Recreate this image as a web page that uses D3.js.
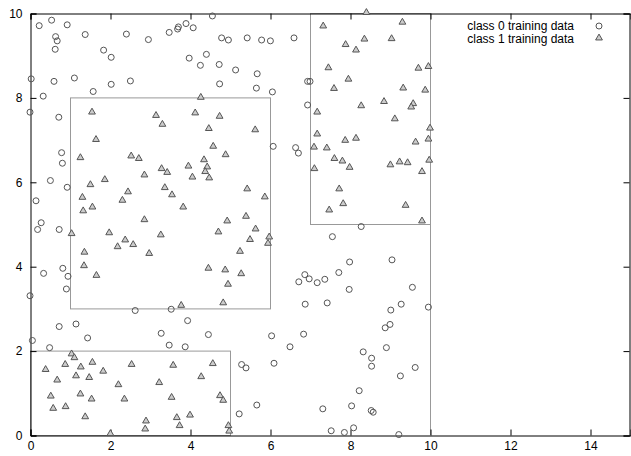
<!DOCTYPE html>
<html>
<head>
<meta charset="utf-8">
<script src="https://cdn.jsdelivr.net/npm/d3@7"></script>
<style>
  body { margin: 0; background: #fff; }
  svg { display: block; font-family: "Liberation Sans", Arial, sans-serif; }
</style>
</head>
<body>
<svg id="chart" width="631" height="456"></svg>
<script>
// class 0 points [x, y]
const class0 = [
  [0.23,9.70],[0.54,9.83],[0.93,9.72],[0.64,9.44],[0.68,9.34],[0.63,9.14],[1.38,9.49],[2.41,9.50],[2.96,9.37],[1.84,9.12],
  [2.03,8.95],[0.03,8.44],[0.60,8.38],[1.11,8.46],[2.03,8.31],[2.51,8.39],[1.58,8.14],[0.33,8.03],[0.0,7.65],[0.72,7.53],
  [4.56,9.93],[3.48,9.54],[3.69,9.62],[3.71,9.67],[3.90,9.75],[4.08,9.65],[4.79,9.41],[4.96,9.36],[5.43,9.41],[5.79,9.36],
  [6.01,9.34],[6.60,9.41],[3.98,8.93],[4.41,9.02],[4.26,8.76],[4.73,8.78],[5.14,8.65],[5.68,8.56],[4.74,8.32],[5.66,8.22],
  [6.06,8.13],[6.08,6.84],[6.64,6.81],[6.71,6.68],[6.94,8.38],[7.0,8.38],[6.94,7.82],
  [0.79,6.69],[0.81,6.44],[0.51,6.03],[0.93,5.87],[0.15,5.55],[0.28,5.03],[0.19,4.87],[0.73,4.87],[0.82,3.95],
  [0.34,3.83],[0.95,3.76],[0.91,3.46],[0.0,3.30],
  [8.28,4.94],[7.56,4.70],[7.99,4.10],[9.05,4.15],[7.72,3.85],[6.87,3.80],[6.72,3.63],[6.98,3.70],[7.18,3.61],[7.37,3.69],
  [7.98,3.45],[9.56,3.50],
  [2.63,2.95],[0.73,2.57],[1.15,2.63],[1.44,2.30],[0.06,2.24],[0.49,2.07],[3.28,2.41],
  [3.53,2.98],[3.94,2.71],[4.46,2.38],[3.48,2.13],[3.88,2.09],[6.04,2.35],[6.50,2.09],[5.29,1.67],[5.40,1.59],[6.10,1.70],
  [5.67,0.71],[5.23,0.50],
  [6.88,3.10],[7.43,3.13],[9.28,3.10],[9.96,3.03],[9.02,2.96],[9.0,2.62],[8.88,2.54],[6.84,2.39],[8.33,1.97],[8.91,2.07],
  [8.54,1.82],[8.54,1.63],[9.63,1.60],[9.26,1.40],[8.23,1.05],[7.32,0.62],[8.04,0.69],[8.53,0.58],[8.58,0.54],[7.53,0.10],
  [7.86,0.06],[8.09,0.17],[9.22,0.01]
];

// class 1 points [x, y]
const class1 = [
  [1.55,7.64],[3.15,7.56],[3.31,7.35],[1.65,6.99],
  [4.27,7.99],[4.13,7.62],[4.74,7.54],[4.47,7.25],[5.63,7.22],[4.58,6.83],
  [8.41,10.0],[7.33,9.68],[9.31,9.77],[7.89,9.24],[8.36,9.37],[9.04,9.38],[8.15,9.11],[7.46,8.69],[9.71,8.68],[9.96,8.72],
  [7.96,8.42],[7.60,8.20],[9.33,8.21],[9.88,8.16],[8.28,7.79],[8.85,7.89],[9.58,7.84],[9.53,7.76],[7.18,7.64],[9.12,7.48],
  [10.0,7.26],[7.18,7.12],[7.88,6.97],[8.15,7.02],[9.64,6.93],[9.96,7.00],[7.10,6.81],[7.42,6.79],
  [1.26,6.56],[2.53,6.60],[2.72,6.54],[3.29,6.30],[2.86,6.15],[1.87,6.04],[1.51,5.92],[3.37,5.85],[2.45,5.75],[1.31,5.62],
  [2.31,5.55],[1.56,5.39],[1.33,5.30],[2.86,5.09],[1.04,4.76],[1.98,4.78],[3.27,4.73],[2.38,4.61],[2.19,4.45],[2.58,4.50],
  [1.36,4.32],[2.98,4.29],[1.35,4.00],[1.66,3.77],
  [4.89,6.63],[4.35,6.51],[3.96,6.36],[4.43,6.34],[3.43,6.21],[4.38,6.23],[4.06,6.10],[4.48,6.08],[3.55,5.68],[5.43,5.82],
  [5.87,5.63],[3.83,5.39],[4.93,5.06],[5.40,5.17],[4.71,4.80],[5.64,4.87],[5.50,4.62],[5.98,4.68],[5.95,4.53],[5.25,4.34],
  [4.46,3.94],[4.88,3.90],[5.28,3.81],[4.95,3.56],
  [7.61,6.54],[7.81,6.48],[7.99,6.33],[7.11,6.30],[9.01,6.39],[9.24,6.46],[9.44,6.44],[9.98,6.50],[9.80,6.23],[7.73,5.82],
  [7.83,5.47],[7.48,5.32],[9.39,5.43],[9.80,5.06],
  [1.04,1.91],[1.11,1.82],[0.39,1.54],[0.88,1.66],[1.27,1.60],[1.56,1.71],[1.83,1.50],[2.54,1.66],[0.68,1.29],[1.15,1.39],
  [1.48,1.35],[2.21,1.18],[3.23,1.23],[0.52,0.91],[1.26,0.96],[1.54,0.84],[2.36,0.84],[0.58,0.62],[0.89,0.66],[1.38,0.42],
  [2.90,0.32],[2.88,0.13],[2.01,0.02],
  [3.78,3.06],[4.83,3.12],[3.58,1.64],[4.57,1.68],[4.28,1.37],[3.54,0.88],[4.75,0.92],[4.83,0.81],[3.67,0.40],[4.0,0.46],
  [3.74,0.21],[4.96,0.21],[4.98,0.08]
];

// region boxes [x0, x1, y0, y1]
const boxes = [
  [1, 6, 3, 8],
  [7, 10, 5, 10],
  [0, 5, 0, 2]
];
const divider = [10, 0, 10]; // vertical line x=10 from y0 to y1

const xTicks = [0, 2, 4, 6, 8, 10, 12, 14];
const yTicks = [0, 2, 4, 6, 8, 10];
const legendLabels = ["class 0 training data", "class 1 training data"];

const svg = d3.select("#chart");
const margin = { top: 13, right: 1, bottom: 21, left: 30 };
const width = 631, height = 456;

const x = d3.scaleLinear().domain([0, 15]).range([margin.left, width - margin.right]);
const y = d3.scaleLinear().domain([0, 10]).range([height - margin.bottom, margin.top]);

const markColor = "#555";
const boxColor = "#999";

// boxes
svg.append("g")
  .selectAll("rect")
  .data(boxes)
  .join("rect")
  .attr("x", d => x(d[0]) + 0.5)
  .attr("y", d => y(d[3]) + 0.5)
  .attr("width", d => x(d[1]) - x(d[0]))
  .attr("height", d => y(d[2]) - y(d[3]))
  .attr("fill", "none")
  .attr("stroke", boxColor)
  .attr("stroke-width", 1);

svg.append("line")
  .attr("x1", x(divider[0]) + 0.5).attr("x2", x(divider[0]) + 0.5)
  .attr("y1", y(divider[1])).attr("y2", y(divider[2]))
  .attr("stroke", boxColor);

// axes (gnuplot style: inward ticks, mirrored)
const tickLen = 6;
const axisB = svg.append("g").attr("transform", `translate(0.5,${y(0) + 0.5})`)
  .call(d3.axisBottom(x).tickValues(xTicks).tickSize(-tickLen).tickPadding(6).tickFormat(d3.format("d")));
const axisT = svg.append("g").attr("transform", `translate(0.5,${y(10) + 0.5})`)
  .call(d3.axisTop(x).tickValues(xTicks).tickSize(-tickLen).tickFormat(""));
const axisL = svg.append("g").attr("transform", `translate(${x(0) + 0.5},0.5)`)
  .call(d3.axisLeft(y).tickValues(yTicks).tickSize(-tickLen).tickPadding(8).tickFormat(d3.format("d")));
const axisR = svg.append("g").attr("transform", `translate(${x(15) - 0.5},0.5)`)
  .call(d3.axisRight(y).tickValues(yTicks).tickSize(-tickLen).tickFormat(""));

[axisB, axisT, axisL, axisR].forEach(g => {
  g.select(".domain").attr("stroke", "#000");
  g.selectAll(".tick line").attr("stroke", "#000");
  g.selectAll("text").attr("font-size", 12).attr("fill", "#000")
    .attr("font-family", "'Liberation Sans', Arial, sans-serif");
});

// markers
const tri = d3.symbol().type(d3.symbolTriangle).size(20);

svg.append("g")
  .selectAll("circle")
  .data(class0)
  .join("circle")
  .attr("cx", d => x(d[0]))
  .attr("cy", d => y(d[1]))
  .attr("r", 3)
  .attr("fill", "none")
  .attr("stroke", markColor)
  .attr("stroke-width", 1);

svg.append("g")
  .selectAll("path")
  .data(class1)
  .join("path")
  .attr("transform", d => `translate(${x(d[0])},${y(d[1]) - 0.5})`)
  .attr("d", tri)
  .attr("fill", "#ccc")
  .attr("stroke", markColor)
  .attr("stroke-width", 1);

// legend
const legend = svg.append("g").attr("font-size", 12);
legendLabels.forEach((label, i) => {
  const ly = 26 + i * 12.5;
  legend.append("text")
    .attr("x", 574).attr("y", ly + 4)
    .attr("text-anchor", "end")
    .text(label);
  if (i === 0) {
    legend.append("circle").attr("cx", 599).attr("cy", ly).attr("r", 3)
      .attr("fill", "none").attr("stroke", markColor);
  } else {
    legend.append("path").attr("transform", `translate(599,${ly - 0.5})`).attr("d", tri)
      .attr("fill", "#ccc").attr("stroke", markColor);
  }
});
</script>
</body>
</html>
